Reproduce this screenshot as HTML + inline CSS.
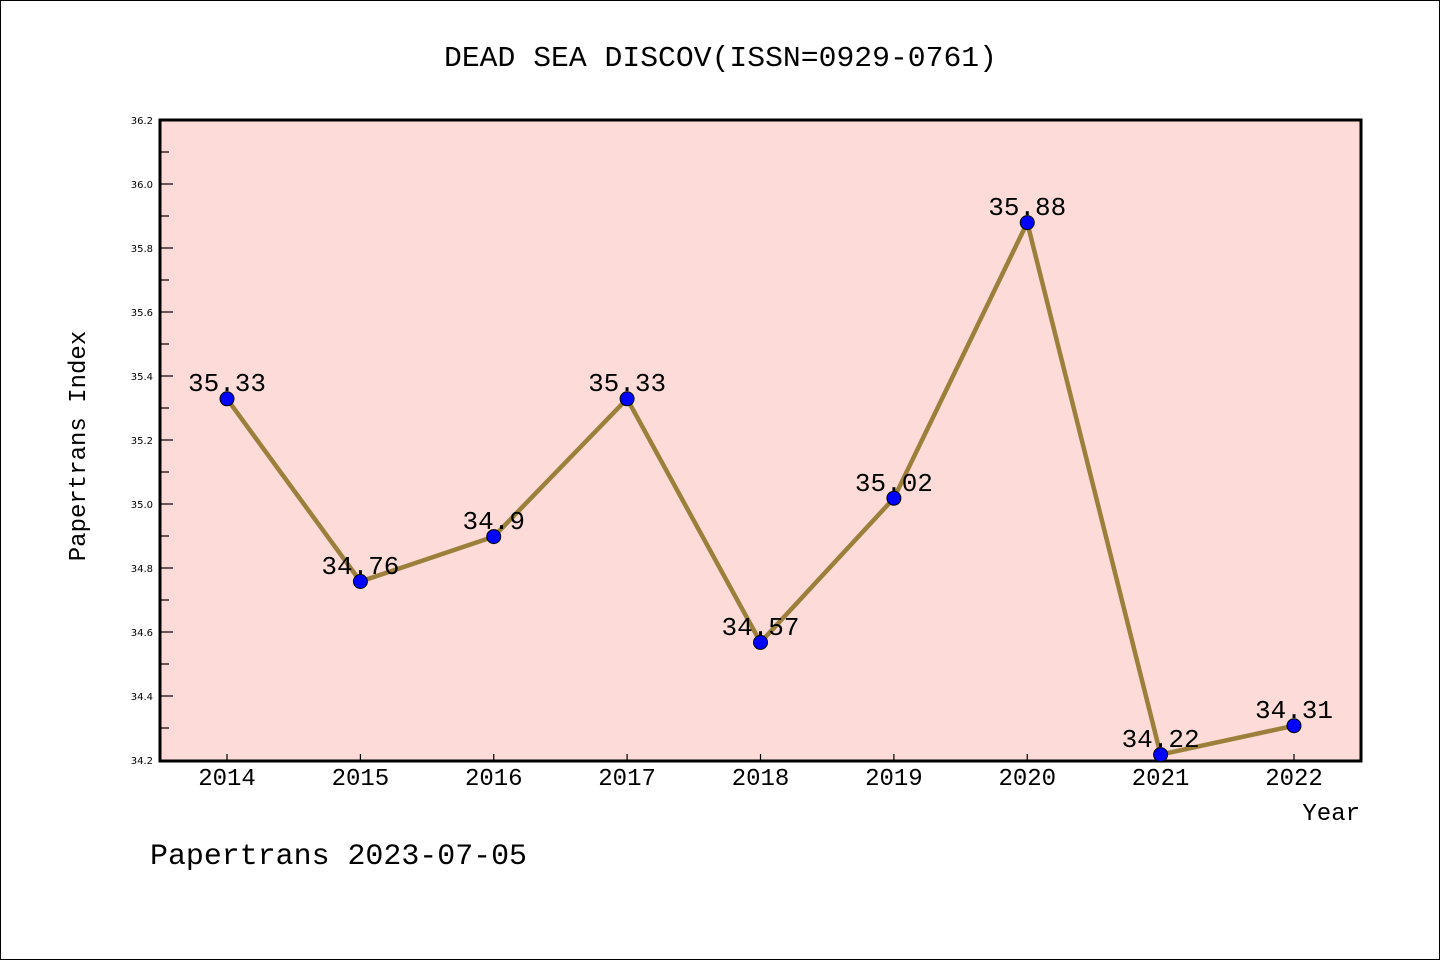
<!DOCTYPE html>
<html><head><meta charset="utf-8"><style>
html,body{margin:0;padding:0;background:#fff;}
svg{display:block;}
.t{font-family:"Liberation Mono",monospace;fill:#000;}
.s{font-family:"DejaVu Sans","Liberation Sans",sans-serif;font-size:10px;fill:#000;}
</style></head><body>
<svg width="1440" height="960" viewBox="0 0 1440 960" xmlns="http://www.w3.org/2000/svg">
<rect x="0.5" y="0.5" width="1439" height="959" fill="#fff" stroke="#000" stroke-width="1"/>
<text class="t" x="444" y="66" font-size="29" textLength="553" lengthAdjust="spacingAndGlyphs">DEAD SEA DISCOV(ISSN=0929-0761)</text>
<rect x="160" y="120" width="1201" height="641" fill="#fddbd8"/>
<g stroke="#000" stroke-width="1.2">
<line x1="160" y1="120" x2="173" y2="120"/><line x1="160" y1="152" x2="169" y2="152"/>
<line x1="160" y1="184" x2="173" y2="184"/><line x1="160" y1="216" x2="169" y2="216"/>
<line x1="160" y1="248" x2="173" y2="248"/><line x1="160" y1="280" x2="169" y2="280"/>
<line x1="160" y1="312" x2="173" y2="312"/><line x1="160" y1="344" x2="169" y2="344"/>
<line x1="160" y1="376" x2="173" y2="376"/><line x1="160" y1="408" x2="169" y2="408"/>
<line x1="160" y1="440" x2="173" y2="440"/><line x1="160" y1="472" x2="169" y2="472"/>
<line x1="160" y1="504" x2="173" y2="504"/><line x1="160" y1="536" x2="169" y2="536"/>
<line x1="160" y1="568" x2="173" y2="568"/><line x1="160" y1="600" x2="169" y2="600"/>
<line x1="160" y1="632" x2="173" y2="632"/><line x1="160" y1="664" x2="169" y2="664"/>
<line x1="160" y1="696" x2="173" y2="696"/><line x1="160" y1="728" x2="169" y2="728"/>
<line x1="227" y1="761" x2="227" y2="754"/><line x1="360.4" y1="761" x2="360.4" y2="754"/>
<line x1="493.75" y1="761" x2="493.75" y2="754"/><line x1="627.1" y1="761" x2="627.1" y2="754"/>
<line x1="760.5" y1="761" x2="760.5" y2="754"/><line x1="893.9" y1="761" x2="893.9" y2="754"/>
<line x1="1027.25" y1="761" x2="1027.25" y2="754"/><line x1="1160.6" y1="761" x2="1160.6" y2="754"/>
<line x1="1294" y1="761" x2="1294" y2="754"/>
</g>
<rect x="160" y="120" width="1201" height="641" fill="none" stroke="#000" stroke-width="3"/>
<g class="s" text-anchor="end">
<text x="153" y="124">36.2</text><text x="153" y="188">36.0</text><text x="153" y="252">35.8</text>
<text x="153" y="316">35.6</text><text x="153" y="380">35.4</text><text x="153" y="444">35.2</text>
<text x="153" y="508">35.0</text><text x="153" y="572">34.8</text><text x="153" y="636">34.6</text>
<text x="153" y="700">34.4</text><text x="153" y="764">34.2</text>
</g>
<g class="t" font-size="24" text-anchor="middle">
<text x="227" y="785">2014</text><text x="360.4" y="785">2015</text><text x="493.75" y="785">2016</text>
<text x="627.1" y="785">2017</text><text x="760.5" y="785">2018</text><text x="893.9" y="785">2019</text>
<text x="1027.25" y="785">2020</text><text x="1160.6" y="785">2021</text><text x="1294" y="785">2022</text>
</g>
<text class="t" x="1360" y="820" font-size="24" text-anchor="end">Year</text>
<text class="t" font-size="24" text-anchor="middle" transform="translate(85,446) rotate(-90)">Papertrans Index</text>
<text class="t" x="150" y="864" font-size="30" textLength="377" lengthAdjust="spacingAndGlyphs">Papertrans 2023-07-05</text>
<polyline fill="none" stroke="#9b7f3a" stroke-width="4.5" stroke-linejoin="round" points="227,398.8 360.4,581.5 493.75,536.6 627.1,398.8 760.5,642.4 893.9,498.2 1027.25,222.6 1160.6,754.6 1294,725.7"/>
<g fill="#0000ff" stroke="#000" stroke-width="1">
<circle cx="227" cy="398.8" r="7"/><circle cx="360.4" cy="581.5" r="7"/><circle cx="493.75" cy="536.6" r="7"/>
<circle cx="627.1" cy="398.8" r="7"/><circle cx="760.5" cy="642.4" r="7"/><circle cx="893.9" cy="498.2" r="7"/>
<circle cx="1027.25" cy="222.6" r="7"/><circle cx="1160.6" cy="754.6" r="7"/><circle cx="1294" cy="725.7" r="7"/>
</g>
<g class="t" font-size="26" text-anchor="middle">
<text x="227" y="391">35.33</text><text x="360.4" y="574">34.76</text><text x="493.75" y="529">34.9</text>
<text x="627.1" y="391">35.33</text><text x="760.5" y="635">34.57</text><text x="893.9" y="491">35.02</text>
<text x="1027.25" y="215">35.88</text><text x="1160.6" y="747">34.22</text><text x="1294" y="718">34.31</text>
</g>
</svg>
</body></html>
